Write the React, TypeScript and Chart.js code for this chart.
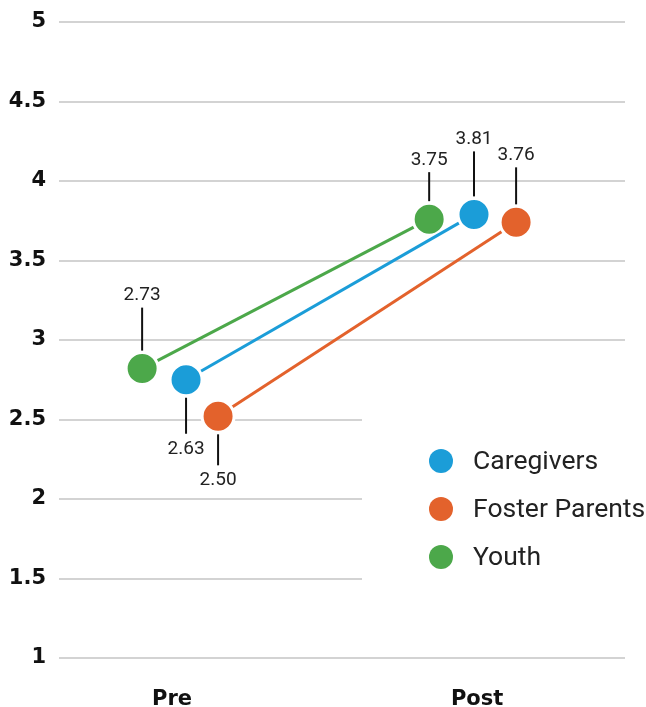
import React, { useEffect, useRef } from "react";
import { Chart, registerables } from "chart.js";

Chart.register(...registerables);

// ---- data ----
const categories = ["Pre", "Post"];
const seriesNames = ["Caregivers", "Foster Parents", "Youth"];
const caregiversValues = [2.75, 3.79];
const fosterValues = [2.52, 3.74];
const youthValues = [2.82, 3.76];
const caregiversLabels = ["2.63", "3.81"];
const fosterLabels = ["2.50", "3.76"];
const youthLabels = ["2.73", "3.75"];
const yTicks = [1, 1.5, 2, 2.5, 3, 3.5, 4, 4.5, 5];

// ---- styling ----
const colors = ["#1b9dd8", "#e3622c", "#4ca84a"];
// horizontal jitter of each series around category position (in category units)
const xJitter = [
  [0.046, -0.01],
  [0.151, 0.128],
  [-0.098, -0.157],
];
// signed leader-line length (positive = up, negative = down)
const leaderLen = [
  [-36, 45],
  [-31, 37],
  [43, 29],
];

const valuesBySeries = [caregiversValues, fosterValues, youthValues];
const labelsBySeries = [caregiversLabels, fosterLabels, youthLabels];

const leaderPlugin = {
  id: "leaderLabels",
  beforeDatasetsDraw(chart: any) {
    const { ctx, chartArea } = chart;
    ctx.save();
    ctx.fillStyle = "#ffffff";
    ctx.fillRect(chartArea.left + 303, chartArea.top + 388, chartArea.right - chartArea.left - 302, 176);
    ctx.restore();
  },
  afterDatasetsDraw(chart: any) {
    const { ctx, chartArea } = chart;
    ctx.save();
    chart.data.datasets.forEach((ds: any, di: number) => {
      const meta = chart.getDatasetMeta(di);
      meta.data.forEach((pt: any, i: number) => {
        const len = leaderLen[di][i];
        const dir = len > 0 ? -1 : 1;
        const start = pt.y + dir * 18;
        const end = start + dir * Math.abs(len);
        ctx.beginPath();
        ctx.strokeStyle = "#111";
        ctx.lineWidth = 2;
        ctx.moveTo(pt.x, start);
        ctx.lineTo(pt.x, end);
        ctx.stroke();
        ctx.fillStyle = "#222";
        ctx.font = "19px Roboto";
        ctx.textAlign = "center";
        ctx.textBaseline = "middle";
        ctx.fillText(labelsBySeries[di][i], pt.x, end + dir * (dir < 0 ? 12 : 15));
      });
    });
    // legend
    const lx = chartArea.left + 382;
    const ly = chartArea.top + 439;
    seriesNames.forEach((name, i) => {
      const y = ly + i * 48;
      ctx.beginPath();
      ctx.fillStyle = colors[i];
      ctx.arc(lx, y, 12, 0, Math.PI * 2);
      ctx.fill();
      ctx.fillStyle = "#222";
      ctx.font = "26.5px Roboto";
      ctx.textAlign = "left";
      ctx.textBaseline = "middle";
      ctx.fillText(name, lx + 32, y + 1);
    });
    ctx.restore();
  },
};

export default function App() {
  const ref = useRef<HTMLCanvasElement>(null);
  useEffect(() => {
    document.body.style.margin = "0";
    const datasets = seriesNames.map((name, si) => ({
      label: name,
      data: categories.map((_, ci) => ({ x: ci + xJitter[si][ci], y: valuesBySeries[si][ci] })),
      borderColor: colors[si],
      backgroundColor: colors[si],
      borderWidth: 3,
      pointRadius: 16,
      pointBorderWidth: 3,
      pointBorderColor: "#ffffff",
      pointBackgroundColor: colors[si],
      showLine: true,
    }));
    const chart = new Chart(ref.current!, {
      type: "scatter",
      data: { datasets },
      plugins: [leaderPlugin],
      options: {
        animation: false,
        responsive: false,
        devicePixelRatio: 1,
        layout: { padding: { top: 22, right: 21, left: 0, bottom: 0 } },
        plugins: { legend: { display: false }, tooltip: { enabled: false } },
        scales: {
          x: {
            type: "linear",
            min: -0.3705,
            max: 1.485,
            grid: { display: false },
            border: { display: false },
            afterFit: (s: any) => { s.height = 49; s.paddingLeft = 0; s.paddingRight = 0; },
            afterBuildTicks: (s: any) => { s.ticks = categories.map((_, i) => ({ value: i })); },
            ticks: {
              padding: 21,
              color: "#111",
              font: { family: "DejaVu Sans", weight: "bold", size: 21 },
              callback: (v: any) => categories[Math.round(Number(v))] ?? "",
            },
          },
          y: {
            type: "linear",
            min: 1,
            max: 5,
            grid: { color: "#d3d3d3", lineWidth: 2, drawTicks: false },
            border: { display: false },
            afterFit: (s: any) => { s.width = 59; s.paddingTop = 0; s.paddingBottom = 0; },
            afterBuildTicks: (s: any) => { s.ticks = yTicks.map((v) => ({ value: v })); },
            ticks: {
              padding: 13,
              color: "#111",
              font: { family: "DejaVu Sans", weight: "bold", size: 21 },
              callback: (v: any) => String(v),
            },
          },
        },
      },
    });
    return () => chart.destroy();
  }, []);
  return <canvas ref={ref} width={646} height={707} style={{ display: "block" }} />;
}
